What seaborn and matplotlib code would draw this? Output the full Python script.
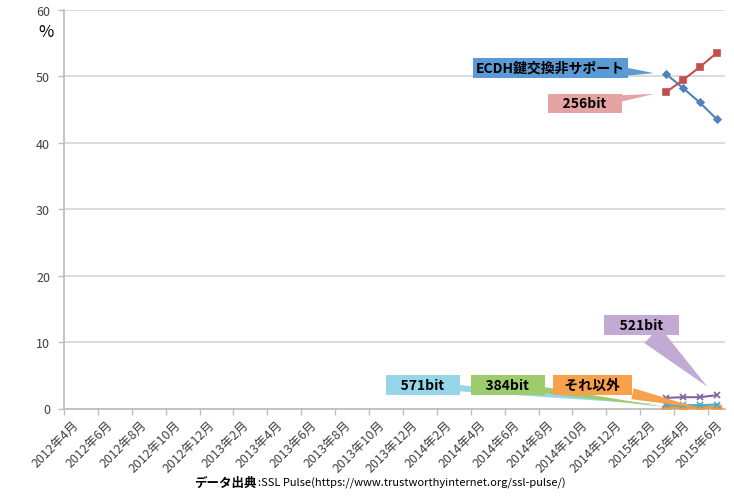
import matplotlib
matplotlib.use("Agg")
import matplotlib.pyplot as plt
import numpy as np
import pandas as pd
import seaborn as sns

# monthly category axis, 2012/4 .. 2015/6
months = [f"{y}年{m}月" for y in range(2012, 2016) for m in range(1, 13)]
months = months[months.index("2012年4月"): months.index("2015年6月") + 1]
tick_labels = months[::2]

# measured values (%), only available from 2015/3
data_months = ["2015年3月", "2015年4月", "2015年5月", "2015年6月"]
ecdh_none = [50.4, 48.3, 46.1, 43.6]
bit256 = [47.6, 49.4, 51.4, 53.5]
bit384 = [0.2, 0.2, 0.2, 0.2]
bit521 = [1.6, 1.7, 1.7, 2.0]
bit571 = [0.5, 0.5, 0.5, 0.6]
other = [0.05, 0.05, 0.05, 0.05]

series_names = ["ECDH鍵交換非サポート", "256bit", "384bit", "521bit", "571bit", "それ以外"]
series_values = [ecdh_none, bit256, bit384, bit521, bit571, other]

line_colors = ["#4f81bd", "#c0504d", "#9bbb59", "#8064a2", "#4bacc6", "#f79646"]
box_colors = ["#5b9bd5", "#e6a3a3", "#9dcc6d", "#c3aad4", "#96d6e8", "#f9a04c"]
markers = ["D", "s", "^", "x", "x", "o"]
marker_sizes = [3.5, 5, 4, 5, 5, 6]

# callout: (series idx, point idx, offset px, tail width, shrinkB pt, label)
callouts = [
    (0, 0, (-115, 6), 0.55, 8.5, "ECDH鍵交換非サポート"),
    (1, 0, (-81, -11), 0.45, 8.5, "    256bit    "),
    (3, 3, (-75, 70), 1.6, 9, "    521bit    "),
    (4, 0, (-243, 20), 0.45, 1, "    571bit    "),
    (2, 0, (-158, 22), 0.45, 0, "    384bit    "),
    (5, 2, (-107, 23), 0.8, 2, "   それ以外   "),
]

df = pd.DataFrame(
    {
        "month": data_months * len(series_names),
        "value": sum(series_values, []),
        "series": np.repeat(series_names, len(data_months)),
    }
)
df["x"] = df["month"].map({m: i for i, m in enumerate(months)})

sns.set_theme(style="white")
plt.rcParams["font.family"] = ["Noto Sans CJK JP", "DejaVu Sans"]

fig = plt.figure(figsize=(7.34, 5.02), dpi=100)
ax = fig.add_axes([64 / 734, 1 - 409.5 / 502, 661 / 734, 398.5 / 502])

draw_order = [2, 3, 5, 4, 0, 1]
for i in draw_order:
    sub = df[df["series"] == series_names[i]]
    sns.lineplot(
        data=sub, x="x", y="value", ax=ax, color=line_colors[i],
        marker=markers[i], markersize=marker_sizes[i],
        markeredgecolor=line_colors[i], markeredgewidth=1.2,
        linewidth=1.5, legend=False, zorder=3,
    )

ax.set_xlim(-0.5, len(months) - 0.5)
ax.set_ylim(0, 60)
ax.set_yticks(range(0, 61, 10))
ax.set_xticks(np.arange(0, len(months), 2))
ax.set_xticklabels(tick_labels, rotation=45, ha="right", va="top",
                   rotation_mode="anchor", fontsize=9, color="#404040")
ax.set_xticks(np.arange(-0.5, len(months), 2), minor=True)
ax.tick_params(axis="x", which="major", length=0, pad=7)
ax.tick_params(axis="x", which="minor", length=4, width=1, color="#bfbfbf",
               direction="out", bottom=True)
ax.tick_params(axis="y", length=4, width=1, color="#bfbfbf", direction="out",
               left=True, labelsize=9, labelcolor="#404040", pad=6)
ax.set_xlabel("")
ax.set_ylabel("")
ax.yaxis.grid(True, color="#d9d9d9", linewidth=1.3)
ax.set_axisbelow(True)
for s in ["top", "right"]:
    ax.spines[s].set_visible(False)
for s in ["left", "bottom"]:
    ax.spines[s].set_color("#bfbfbf")
    ax.spines[s].set_linewidth(1.3)

for si, pi, off, tw, shr, label in callouts:
    x = months.index(data_months[pi])
    y = series_values[si][pi]
    ax.annotate(
        label, xy=(x, y), xytext=off, textcoords="offset pixels",
        ha="center", va="center", fontsize=10, fontweight="bold", color="black",
        bbox=dict(boxstyle="square,pad=0.2", fc=box_colors[si], ec="none"),
        arrowprops=dict(arrowstyle=f"wedge,tail_width={tw},shrink_factor=0.5",
                        fc=box_colors[si], ec="none", mutation_scale=10,
                        shrinkA=0, shrinkB=shr),
        zorder=5, annotation_clip=False,
    )

fig.text(46 / 734, 1 - 33 / 502, "%", ha="center", va="center", fontsize=12,
         color="black")
fig.text(257 / 734, 1 - 483 / 502, "データ出典", ha="right", va="center",
         fontsize=9, fontweight="bold", color="black")
fig.text(258 / 734, 1 - 483 / 502,
         ":SSL Pulse(https://www.trustworthyinternet.org/ssl-pulse/)",
         ha="left", va="center", fontsize=8, color="black")

fig.savefig("out.png", dpi=100)
